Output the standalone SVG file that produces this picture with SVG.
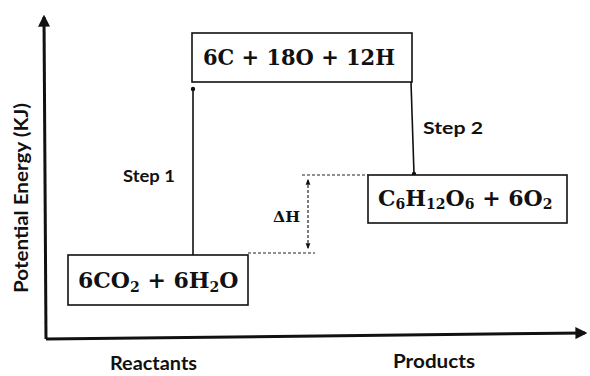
<svg xmlns="http://www.w3.org/2000/svg" width="590" height="376" viewBox="0 0 590 376">
<style>
.box{fill:#fff;stroke:#111;stroke-width:1.6}
.f{font-family:"DejaVu Serif","Liberation Serif",serif;fill:#111;font-weight:bold}
.lbl{font-family:"Lato","Open Sans",sans-serif;font-weight:bold;fill:#111}
.ln{stroke:#111;stroke-width:1.6;fill:none}
.dot{stroke:#222;stroke-width:1.2;stroke-dasharray:3 2;fill:none}
.ax{stroke:#111;stroke-width:3;fill:none}
</style>
<defs>
<marker id="ah" viewBox="0 0 10 10" refX="8" refY="5" markerWidth="4" markerHeight="4" orient="auto-start-reverse"><path d="M0,0 L10,5 L0,10 z" fill="#111"/></marker>
<marker id="sa" viewBox="0 0 10 10" refX="8" refY="5" markerWidth="5" markerHeight="5" orient="auto-start-reverse"><path d="M0,1 L10,5 L0,9 z" fill="#111"/></marker>
</defs>
<g id="axes">
<line class="ax" x1="46" y1="339" x2="44" y2="17" marker-end="url(#ah)"/>
<line class="ax" x1="46" y1="339" x2="585" y2="333" marker-end="url(#ah)"/>
<text class="lbl" font-size="18" transform="translate(28,198) rotate(-90)" text-anchor="middle" textLength="190" lengthAdjust="spacingAndGlyphs">Potential Energy (KJ)</text>
<text class="lbl" x="110" y="370" font-size="18" textLength="87" lengthAdjust="spacingAndGlyphs">Reactants</text>
<text class="lbl" x="393" y="368" font-size="18" textLength="82" lengthAdjust="spacingAndGlyphs">Products</text>
</g>
<g id="connectors">
<line class="ln" x1="193" y1="89" x2="193" y2="255"/>
<circle cx="193" cy="89" r="2.2" fill="#111"/>
<line class="ln" x1="411" y1="82" x2="414" y2="174"/>
<circle cx="414" cy="174" r="2.2" fill="#111"/>
<line class="dot" x1="302" y1="175" x2="368" y2="175"/>
<line class="dot" x1="248" y1="253" x2="315" y2="253"/>
<line class="dot" x1="308" y1="180" x2="308" y2="248" marker-start="url(#sa)" marker-end="url(#sa)"/>
<text class="lbl" x="123" y="182" font-size="17" textLength="52" lengthAdjust="spacingAndGlyphs">Step 1</text>
<text class="lbl" x="423" y="134" font-size="17" textLength="60" lengthAdjust="spacingAndGlyphs">Step 2</text>
<text class="f" x="273" y="222" font-size="15" textLength="27" lengthAdjust="spacingAndGlyphs">ΔH</text>
</g>
<g id="n-top">
<rect class="box" x="192" y="33" width="220" height="49"/>
<text class="f" x="203" y="65" font-size="22" textLength="192" lengthAdjust="spacingAndGlyphs">6C + 18O + 12H</text>
</g>
<g id="n-react">
<rect class="box" x="68" y="255" width="180" height="50"/>
<text class="f" x="78" y="288" font-size="22">6CO<tspan font-size="14" dy="4">2</tspan><tspan dy="-4"> + 6H</tspan><tspan font-size="14" dy="4">2</tspan><tspan dy="-4">O</tspan></text>
</g>
<g id="n-prod">
<rect class="box" x="368" y="175" width="199" height="48"/>
<text class="f" x="378" y="206" font-size="22">C<tspan font-size="14" dy="3">6</tspan><tspan dy="-3">H</tspan><tspan font-size="14" dy="3">12</tspan><tspan dy="-3">O</tspan><tspan font-size="14" dy="3">6</tspan><tspan dy="-3"> + 6O</tspan><tspan font-size="14" dy="3">2</tspan></text>
</g>
</svg>
